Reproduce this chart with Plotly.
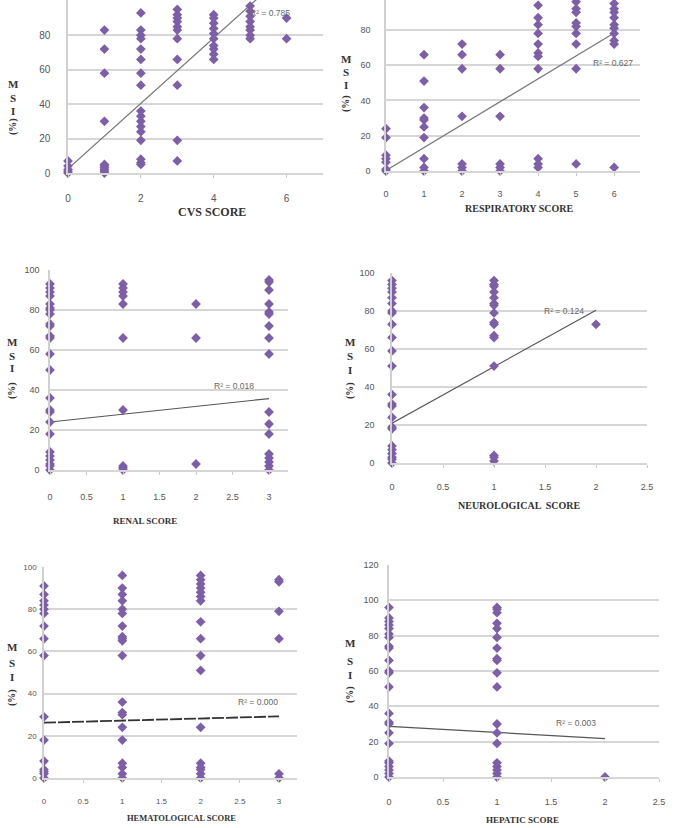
import plotly.graph_objects as go

# ---------------- DATA ----------------
cvs_scores = [0, 1, 2, 3, 4, 5, 6]
cvs_msi = [
    [0, 1, 2, 4, 7],
    [83, 72, 58, 30, 0, 1, 2, 3, 4, 5],
    [93, 83, 80, 78, 72, 66, 58, 51, 36, 33, 30, 27, 24, 19, 8, 6, 5],
    [95, 92, 90, 88, 85, 83, 78, 66, 51, 19, 7],
    [92, 90, 87, 84, 81, 78, 74, 72, 69, 66],
    [97, 94, 91, 88, 85, 83, 80, 78],
    [90, 78],
]
cvs_trend = (2.5, 19.0)   # intercept, slope
cvs_r2 = "R² = 0.785"

resp_scores = [0, 1, 2, 3, 4, 5, 6]
resp_msi = [
    [24, 19, 9, 7, 5, 1, 0],
    [66, 51, 36, 30, 29, 25, 19, 7, 2, 0],
    [72, 66, 58, 31, 4, 2, 0],
    [66, 58, 31, 4, 2, 0],
    [94, 87, 83, 78, 72, 67, 65, 58, 7, 4, 2],
    [96, 92, 90, 84, 82, 78, 72, 58, 4],
    [95, 92, 90, 87, 83, 81, 78, 74, 72, 2],
]
resp_trend = (0.3, 13.0)
resp_r2 = "R² = 0.627"

renal_scores = [0, 1, 2, 3]
renal_msi = [
    [93, 91, 89, 87, 83, 81, 80, 78, 73, 72, 67, 66, 58, 50, 36, 30, 29, 24, 18, 9, 7, 5, 3, 2, 0],
    [93, 91, 89, 87, 83, 66, 30, 2, 1, 0],
    [83, 66, 3],
    [95, 94, 90, 83, 79, 78, 72, 66, 58, 29, 23, 18, 8, 6, 4, 2, 0],
]
renal_trend = (24.0, 3.9)
renal_r2 = "R² = 0.018"

neuro_scores = [0, 1, 2]
neuro_msi = [
    [96, 94, 92, 90, 87, 84, 80, 79, 73, 66, 59, 51, 36, 31, 30, 24, 19, 18, 9, 7, 5, 3, 2, 0],
    [96, 94, 93, 90, 87, 84, 83, 79, 74, 73, 67, 66, 51, 4, 3, 1],
    [73],
]
neuro_trend = (21.0, 29.7)
neuro_r2 = "R² = 0.124"

hema_scores = [0, 1, 2, 3]
hema_msi = [
    [91, 87, 84, 82, 80, 78, 72, 66, 58, 29, 18, 8, 4, 3, 2, 0],
    [96, 90, 87, 84, 80, 78, 72, 67, 66, 65, 58, 36, 31, 30, 24, 18, 7, 5, 2, 0],
    [96, 94, 92, 90, 88, 86, 84, 74, 66, 58, 51, 24, 7, 5, 4, 2, 0],
    [94, 93, 79, 66, 2, 0],
]
hema_trend = (26.2, 1.0)
hema_r2 = "R² = 0.000"

hep_scores = [0, 1, 2]
hep_msi = [
    [96, 90, 88, 86, 84, 81, 79, 74, 73, 66, 60, 59, 51, 36, 31, 30, 25, 19, 9, 8, 6, 4, 2, 0],
    [96, 95, 93, 87, 84, 79, 73, 67, 66, 59, 51, 30, 25, 19, 8, 6, 4, 2, 0],
    [0],
]
hep_trend = (28.7, -3.5)
hep_r2 = "R² = 0.003"

x_titles = ["CVS SCORE", "RESPIRATORY SCORE", "RENAL SCORE",
            "NEUROLOGICAL  SCORE", "HEMATOLOGICAL SCORE", "HEPATIC SCORE"]

# ---------------- LAYOUT ----------------
W, H = 685, 828
PURPLE = "#7d5ea8"
GRID = "#d6d6d6"


def dx(px):
    return px / W


def dy(py):
    return 1 - py / H


panels = [
    dict(s=cvs_scores, m=cvs_msi, tr=cvs_trend, r2=cvs_r2, box=(68, 323, 0, 173),
         xr=[0, 7.0], yr=[0, 100.5], xd=2, yd=20, r2xy=(4.95, 93), ysd=14, xsd=12, tf=10,
         tpos=(212, 212), ts=12, yl=(13, 84, 98, 111, 127), dash="solid", lc="#777777", lw=1.2,
         xmax=6),
    dict(s=resp_scores, m=resp_msi, tr=resp_trend, r2=resp_r2, box=(386, 640, 0, 171),
         xr=[0, 6.68], yr=[0, 97], xd=1, yd=20, r2xy=(5.4, 61), ysd=12, xsd=10, tf=9,
         tpos=(519, 208), ts=10, yl=(346, 59, 72, 85, 104), dash="solid", lc="#777777", lw=1.2,
         xmax=6),
    dict(s=renal_scores, m=renal_msi, tr=renal_trend, r2=renal_r2, box=(50, 288, 270, 470),
         xr=[0, 3.26], yr=[0, 100], xd=0.5, yd=20, r2xy=(2.22, 42), ysd=7, xsd=14, tf=9,
         tpos=(145, 521), ts=9, yl=(12, 342, 356, 368, 391), dash="solid", lc="#555555", lw=1.2,
         xmax=3),
    dict(s=neuro_scores, m=neuro_msi, tr=neuro_trend, r2=neuro_r2, box=(392, 647, 273, 463),
         xr=[0, 2.5], yr=[0, 100], xd=0.5, yd=20, r2xy=(1.47, 80), ysd=14, xsd=11, tf=9,
         tpos=(519, 505), ts=10, yl=(350, 342, 356, 370, 391), dash="solid", lc="#555555", lw=1.2,
         xmax=2),
    dict(s=hema_scores, m=hema_msi, tr=hema_trend, r2=hema_r2, box=(44, 297, 567, 778),
         xr=[0, 3.23], yr=[0, 100], xd=0.5, yd=20, r2xy=(2.45, 36), ysd=4, xsd=11, tf=8,
         tpos=(181, 818), ts=8.5, yl=(12, 647, 663, 677, 698), dash="12px,2px", lc="#333333", lw=1.8,
         xmax=3),
    dict(s=hep_scores, m=hep_msi, tr=hep_trend, r2=hep_r2, box=(389, 659, 565, 777),
         xr=[0, 2.5], yr=[0, 120], xd=0.5, yd=20, r2xy=(1.53, 30.5), ysd=7, xsd=12, tf=9,
         tpos=(522, 820), ts=9, yl=(350, 643, 661, 675, 695), dash="solid", lc="#555555", lw=1.2,
         xmax=2),
]

fig = go.Figure()
annotations = []
TICKFONT = "Liberation Sans"
SERIF = "Liberation Serif"

for i, p in enumerate(panels, start=1):
    xa = "x" if i == 1 else f"x{i}"
    ya = "y" if i == 1 else f"y{i}"
    xs, ys = [], []
    for sc, vals in zip(p["s"], p["m"]):
        xs += [sc] * len(vals)
        ys += vals
    b0, b1 = p["tr"]
    fig.add_trace(go.Scatter(
        x=[0, p["xmax"]], y=[b0, b0 + b1 * p["xmax"]], mode="lines",
        xaxis=xa, yaxis=ya, showlegend=False,
        line=dict(color=p["lc"], width=p["lw"], dash=p["dash"]),
    ))
    fig.add_trace(go.Scatter(
        x=xs, y=ys, mode="markers", xaxis=xa, yaxis=ya, showlegend=False,
        cliponaxis=False,
        marker=dict(symbol="diamond", size=7.5, color=PURPLE, line=dict(width=0)),
    ))
    l, r, t, bt = p["box"]
    xkey = "xaxis" if i == 1 else f"xaxis{i}"
    ykey = "yaxis" if i == 1 else f"yaxis{i}"
    fig.update_layout(**{
        xkey: dict(domain=[dx(l), dx(r)], range=p["xr"], dtick=p["xd"], tick0=0,
                   anchor=ya, showgrid=False, zeroline=False, automargin=False,
                   showline=True, linecolor=GRID, linewidth=2,
                   ticks="outside", ticklen=3, tickcolor="#c8c8c8",
                   ticklabelstandoff=p["xsd"],
                   tickfont=dict(family=TICKFONT, size=p["tf"], color="#555555")),
        ykey: dict(domain=[dy(bt), dy(t)], range=p["yr"], dtick=p["yd"], tick0=0,
                   anchor=xa, showgrid=True, gridcolor=GRID, gridwidth=2,
                   zeroline=False, showline=True, linecolor="#d0d0d0", linewidth=1.5,
                   ticks="", ticklabelstandoff=p["ysd"], automargin=False,
                   tickfont=dict(family=TICKFONT, size=p["tf"], color="#555555")),
    })
    annotations.append(dict(
        x=p["r2xy"][0], y=p["r2xy"][1], xref=xa, yref=ya, text=p["r2"],
        showarrow=False, xanchor="left", yanchor="middle",
        font=dict(family=TICKFONT, size=8.5, color="#666666"),
    ))
    annotations.append(dict(
        x=dx(p["tpos"][0]), y=dy(p["tpos"][1]), xref="paper", yref="paper",
        text=f"<b>{x_titles[i - 1]}</b>", showarrow=False,
        xanchor="center", yanchor="middle",
        font=dict(family=SERIF, size=p["ts"], color="#333333"),
    ))
    lx, yM, yS, yI, yP = p["yl"]
    for txt, yy in (("M", yM), ("S", yS), ("I", yI)):
        annotations.append(dict(
            x=dx(lx), y=dy(yy), xref="paper", yref="paper", text=f"<b>{txt}</b>",
            showarrow=False, xanchor="center", yanchor="middle",
            font=dict(family=SERIF, size=11, color="#333333"),
        ))
    annotations.append(dict(
        x=dx(lx), y=dy(yP), xref="paper", yref="paper", text="<b>(%)</b>",
        showarrow=False, xanchor="center", yanchor="middle", textangle=-90,
        font=dict(family=SERIF, size=10, color="#333333"),
    ))

fig.update_layout(
    width=W, height=H, margin=dict(l=0, r=0, t=0, b=0, autoexpand=False),
    paper_bgcolor="white", plot_bgcolor="white",
    annotations=annotations, showlegend=False,
)

fig.write_html(
    "out.html",
    config={"displayModeBar": False},
    post_script="document.body.style.margin='0px';document.body.style.overflow='hidden';",
)
